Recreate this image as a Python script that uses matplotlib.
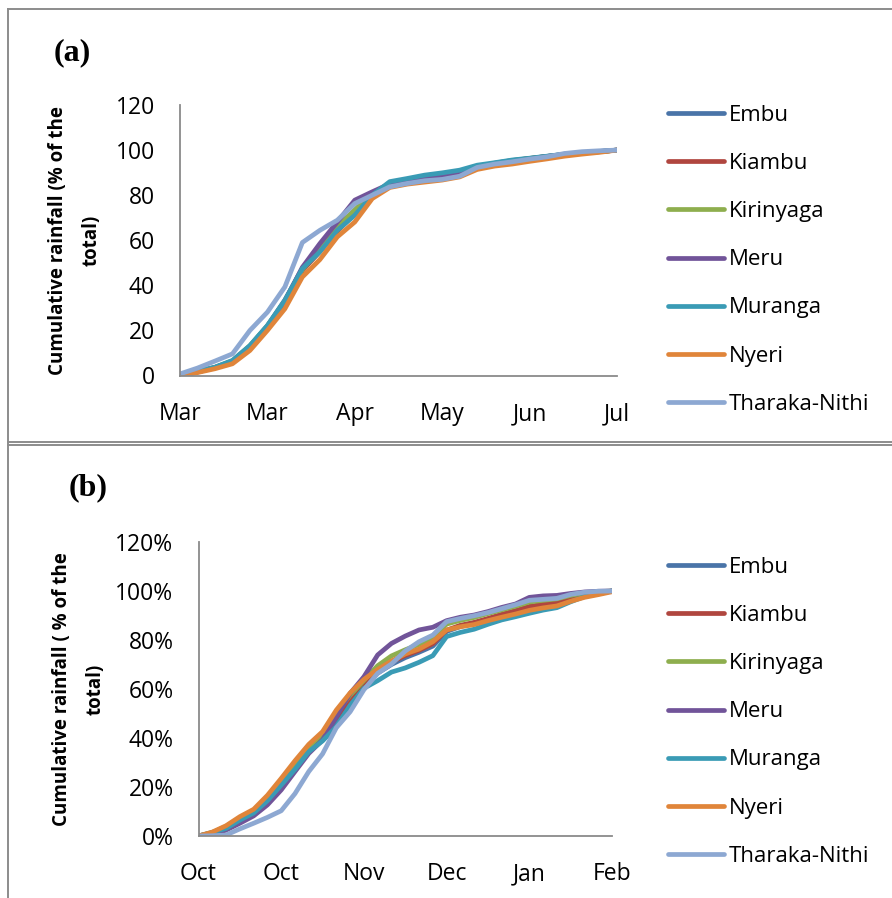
import matplotlib
matplotlib.use("Agg")
import matplotlib.pyplot as plt
from matplotlib.lines import Line2D
from matplotlib.ticker import PercentFormatter

plt.rcParams["font.family"] = ["Open Sans", "DejaVu Sans"]

counties = ["Embu", "Kiambu", "Kirinyaga", "Meru", "Muranga", "Nyeri", "Tharaka-Nithi"]
colors = ["#4A74A8", "#B0463F", "#8EAE4E", "#715499", "#3A9BB5", "#E0853A", "#8DA8D2"]

# (a) March-July season, days since 1 March, cumulative % of total
days_a = list(range(0, 126, 5))
ticks_a = ["Mar", "Mar", "Apr", "May", "Jun", "Jul"]
embu_a = [0, 1.7, 3.6, 6.4, 13, 22, 33.5, 47.5, 55.5, 65, 72.5, 80.5, 85, 86.8, 88, 89.2,
          90.4, 92.7, 94.2, 95.4, 96.3, 97.2, 98.1, 98.7, 99.3, 100]
kiambu_a = [0, 1.6, 3.4, 6.2, 12.6, 21.5, 32.5, 46.5, 55, 64, 72, 80.2, 84.8, 86.5, 87.6, 88.8,
            90, 92.5, 94, 95.2, 96.2, 97.1, 98, 98.7, 99.3, 100]
kirinyaga_a = [0, 1.8, 3.6, 6.5, 13.2, 22, 33, 47, 56, 66, 73.5, 80.8, 85, 86.6, 87.8, 89,
               90.2, 92.6, 94.1, 95.3, 96.3, 97.2, 98.1, 98.8, 99.3, 100]
meru_a = [0, 1.5, 3.5, 6.0, 12.5, 21.5, 33, 48, 58.5, 68.1, 77.8, 81.5, 85, 86.5, 87.5, 88.5,
          89.8, 92.5, 94, 95.2, 96.2, 97.2, 98.1, 98.8, 99.4, 100]
muranga_a = [0, 1.9, 3.7, 6.7, 13.3, 22.2, 33.3, 47.4, 54.8, 64.4, 71.1, 80, 86, 87.4, 88.9, 89.9,
             91.1, 93.3, 94.4, 95.6, 96.4, 97.3, 98.2, 98.8, 99.4, 100]
nyeri_a = [0, 1.3, 3, 5.2, 11.1, 20, 29.6, 43.7, 51.4, 61.5, 68.1, 78.5, 83.4, 84.9, 85.8, 86.7,
           88.1, 91.4, 92.9, 93.8, 95, 96.1, 97.3, 98.2, 99, 100]
tharaka_a = [0.7, 3.3, 6.4, 9.6, 20, 28.1, 39.3, 59, 64.4, 68.9, 76.3, 80, 83.7, 85.2, 86.4, 87,
             88.4, 92.3, 93.8, 94.8, 96, 97, 98.5, 99.3, 99.7, 100]

# (b) October-February season, days since 1 October
days_b = list(range(0, 151, 5))
ticks_b = ["Oct", "Oct", "Nov", "Dec", "Jan", "Feb"]
embu_b = [0, 1.2, 3.5, 6.9, 9.8, 15, 21.8, 28.5, 35.5, 40.5, 47, 55.5, 61.8, 66.5, 70, 72.8,
          75, 77.5, 83.5, 85.5, 86.8, 88.3, 90, 91.5, 93.2, 94.2, 95, 96.6, 98.3, 99.1, 100]
kiambu_b = [0, 1.3, 3.9, 7.4, 10.4, 15.6, 22.3, 29.2, 36.3, 41.2, 48.5, 56.3, 62.6, 67.4, 71,
            73.7, 75.8, 78.5, 84, 86, 87.2, 88.8, 90.5, 92, 93.7, 94.6, 95.4, 97, 98.6, 99.3, 100]
kirinyaga_b = [0, 1.4, 3.8, 7.2, 10.2, 15.8, 22.5, 29.5, 36.5, 41.8, 50.2, 57.5, 63.5, 69.5,
               73.5, 76, 78.2, 81, 86.5, 88, 89.2, 90.8, 92.3, 93.8, 95.5, 96.2, 96.8, 98.2,
               99.2, 99.7, 100]
meru_b = [0, 0.5, 2.4, 5.2, 8.2, 12.7, 18.8, 26.3, 33.7, 39.2, 48.7, 58.2, 65, 73.9, 78.6, 81.6,
          84.1, 85.2, 87.9, 89.3, 90.2, 91.6, 93.3, 94.7, 97.4, 98, 98.2, 99, 99.6, 99.9, 100]
muranga_b = [0, 1.5, 3.1, 6.5, 9.4, 14.4, 20.8, 27.2, 34.4, 38.8, 44.6, 53.3, 60.3, 63.4, 66.9,
             68.6, 70.9, 73.6, 81.4, 83.1, 84.4, 86.4, 88.2, 89.5, 90.9, 92.2, 93.2, 95.6, 97.7,
             98.8, 100]
nyeri_b = [0, 1.6, 4.2, 7.9, 10.9, 16.6, 23.5, 30.7, 37.4, 42.6, 51.4, 58.4, 63.9, 68, 71.4,
           74.3, 76.3, 79.3, 84.1, 85.4, 86.3, 87.9, 89.3, 90.6, 92.1, 93.1, 93.9, 95.8, 97.4,
           98.5, 99.7]
tharaka_b = [0, 0.1, 0.4, 2.9, 5.2, 7.6, 10.3, 17.3, 26.3, 33.5, 44.2, 50.7, 59.7, 66.4, 70.2,
             75.5, 79.3, 82, 87.5, 88.8, 89.9, 91.2, 92.8, 94.4, 96.2, 96.6, 97, 98.6, 99.5,
             99.9, 100]

series_a = [embu_a, kiambu_a, kirinyaga_a, meru_a, muranga_a, nyeri_a, tharaka_a]
series_b = [embu_b, kiambu_b, kirinyaga_b, meru_b, muranga_b, nyeri_b, tharaka_b]

W, H = 892, 898
fig = plt.figure(figsize=(W / 100, H / 100), dpi=100)


def fx(px):
    return px / W


def fy(py):
    return 1 - py / H


def rect_px_top(rect):
    return (1 - rect[1] - rect[3]) * H


def rect_px_bot(rect):
    return (1 - rect[1]) * H


def panel(rect, days, series, step, ticks, ylabel_lines, label, label_xy, legend_top, pct):
    ax = fig.add_axes(rect)
    for vals, name, c in zip(series, counties, colors):
        ax.plot(days, vals, color=c, lw=3.4, label=name, solid_capstyle="round",
                solid_joinstyle="round")
    ax.set_xlim(0, days[-1])
    ax.set_ylim(0, 120)
    ax.set_yticks(range(0, 121, 20))
    if pct:
        ax.yaxis.set_major_formatter(PercentFormatter(100, decimals=0))
    ax.set_xticks(range(0, days[-1] + 1, step))
    ax.set_xticklabels(ticks)
    for s in ["top", "right"]:
        ax.spines[s].set_visible(False)
    for s in ["left", "bottom"]:
        ax.spines[s].set_color("#8a8a8a")
        ax.spines[s].set_linewidth(1.3)
    ax.tick_params(axis="both", length=0, labelsize=16.5, colors="black")
    ax.tick_params(axis="y", pad=18)
    ax.tick_params(axis="x", pad=19)

    ymid = (rect_px_top(rect) + rect_px_bot(rect)) / 2
    for (x, txt) in ylabel_lines:
        fig.text(fx(x), fy(ymid), txt, rotation=90,
                 ha="center", va="center", fontsize=13.5, fontweight="bold")
    fig.text(fx(label_xy[0]), fy(label_xy[1]), label, ha="center", va="center",
             fontsize=23, fontweight="bold", family="Liberation Serif")

    ax.legend(loc="upper left", bbox_to_anchor=(fx(668), fy(legend_top)),
              bbox_transform=fig.transFigure, frameon=False, fontsize=16,
              handlelength=2.5, handletextpad=0.25, labelspacing=1.22,
              borderpad=0, borderaxespad=0)
    return ax


rect_a = [fx(180), fy(375.5), fx(617) - fx(180), fy(105) - fy(375.5)]
rect_b = [fx(198.5), fy(836), fx(612) - fx(198.5), fy(542) - fy(836)]

panel(rect_a, days_a, series_a, 25, ticks_a,
      [(58, "Cumulative rainfall (% of the"), (92, "total)")],
      "(a)", (72, 53), 105, False)
panel(rect_b, days_b, series_b, 30, ticks_b,
      [(62, "Cumulative rainfall ( % of the"), (96, "total)")],
      "(b)", (88, 488), 557, True)

# frame lines around the two panels
border = dict(color="#8c8c8c", lw=1.4, transform=fig.transFigure)
fig.add_artist(Line2D([fx(8), 1], [fy(9), fy(9)], **border))
fig.add_artist(Line2D([fx(8), fx(8)], [fy(9), 0], **border))
fig.add_artist(Line2D([fx(8), 1], [fy(442), fy(442)], **border))
fig.add_artist(Line2D([fx(8), 1], [fy(445), fy(445)], **border))

fig.savefig("out.png", dpi=100)
